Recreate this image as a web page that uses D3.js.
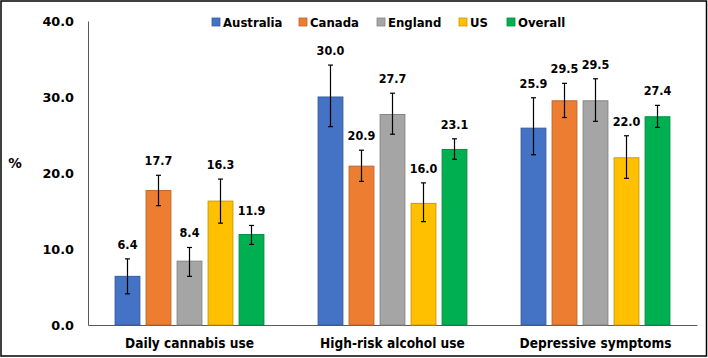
<!DOCTYPE html>
<html><head><meta charset="utf-8">
<script src="https://cdn.jsdelivr.net/npm/d3@7"></script>
<style>
html,body{margin:0;padding:0;background:#fff;}
svg{display:block;}
.cond{font-family:"DejaVu Sans Condensed","DejaVu Sans",sans-serif;font-stretch:condensed;font-weight:bold;}
.wide{font-family:"DejaVu Sans",sans-serif;font-weight:bold;}
</style></head>
<body>
<svg id="c" width="708" height="358"></svg>
<script>
const categories = ["Daily cannabis use", "High-risk alcohol use", "Depressive symptoms"];
const seriesNames = ["Australia", "Canada", "England", "US", "Overall"];
const colors = ["#4472C4", "#ED7D31", "#A5A5A5", "#FFC000", "#00B050"];
// values per series, in category order
const australia = [6.4, 30.0, 25.9];
const canada = [17.7, 20.9, 29.5];
const england = [8.4, 27.7, 29.5];
const us = [16.3, 16.0, 22.0];
const overall = [11.9, 23.1, 27.4];
// 95% CI lower / upper
const australiaLo = [4.1, 26.1, 22.4], australiaHi = [8.7, 34.2, 29.9];
const canadaLo = [15.7, 18.9, 27.3], canadaHi = [19.7, 23.0, 31.8];
const englandLo = [6.4, 25.1, 26.8], englandHi = [10.2, 30.5, 32.4];
const usLo = [13.4, 13.6, 19.3], usHi = [19.2, 18.7, 24.9];
const overallLo = [10.6, 21.8, 26.0], overallHi = [13.1, 24.5, 28.9];
const yTicks = [0, 10, 20, 30, 40];
const yLabel = "%";

const values = [australia, canada, england, us, overall];
const los = [australiaLo, canadaLo, englandLo, usLo, overallLo];
const his = [australiaHi, canadaHi, englandHi, usHi, overallHi];

const svg = d3.select("#c");
const W = 708, H = 358;
const mLeft = 88, mRight = 697, mTop = 21, mBottom = 325;

svg.append("rect").attr("x", 1).attr("y", 1).attr("width", W - 2.5).attr("height", H - 3)
  .attr("fill", "#fff").attr("stroke", "#000").attr("stroke-width", 1.5);

const y = d3.scaleLinear().domain([0, 40]).range([mBottom, mTop]);
const x0 = d3.scaleBand().domain(categories).range([mLeft, mRight]);
const x1 = d3.scaleBand().domain(seriesNames).range([0, x0.bandwidth()])
  .paddingInner(0.2).paddingOuter(0.874);

// y tick labels
const yAxis = d3.axisLeft(y).tickValues(yTicks).tickFormat(d3.format(".1f")).tickSize(0).tickPadding(14);
const ga = svg.append("g").attr("transform", `translate(${mLeft},0)`).call(yAxis);
ga.attr("font-family", null).attr("font-size", null);
ga.select(".domain").attr("stroke", "#595959").attr("stroke-width", 1);
ga.selectAll("text").attr("class", "wide").attr("font-size", 12.8).attr("fill", "#000")
  .attr("x", 74 - mLeft);

// x axis line
const xAxis = d3.axisBottom(x0).tickSize(0).tickPadding(14);
const gx = svg.append("g").attr("transform", `translate(0,${mBottom})`).call(xAxis);
gx.attr("font-family", null).attr("font-size", null);
gx.select(".domain").attr("stroke", "#595959").attr("stroke-width", 1);
gx.selectAll("text").attr("class", "cond").attr("font-size", 13.6).attr("fill", "#000")
  .attr("dy", null).attr("y", 348 - mBottom);

svg.append("text").attr("class", "wide").attr("font-size", 13.5)
  .attr("x", 15).attr("y", 168).attr("text-anchor", "middle").text(yLabel);

// bars
seriesNames.forEach((s, si) => {
  const g = svg.append("g");
  const data = categories.map((c, ci) => ({c, v: values[si][ci], lo: los[si][ci], hi: his[si][ci]}));
  g.selectAll("rect").data(data).join("rect")
    .attr("x", d => x0(d.c) + x1(s))
    .attr("y", d => y(d.v))
    .attr("width", x1.bandwidth())
    .attr("height", d => y(0) - y(d.v))
    .attr("fill", colors[si])
    .attr("stroke", d3.color(colors[si]).darker(0.6))
    .attr("stroke-width", 1);
  const cx = d => x0(d.c) + x1(s) + x1.bandwidth() / 2;
  g.selectAll("line.err").data(data).join("line").attr("class", "err")
    .attr("x1", cx).attr("x2", cx).attr("y1", d => y(d.lo)).attr("y2", d => y(d.hi))
    .attr("stroke", "#000").attr("stroke-width", 1.2);
  g.selectAll("line.capH").data(data).join("line").attr("class", "capH")
    .attr("x1", d => cx(d) - 2.5).attr("x2", d => cx(d) + 2.5).attr("y1", d => y(d.hi)).attr("y2", d => y(d.hi))
    .attr("stroke", "#000").attr("stroke-width", 1.2);
  g.selectAll("line.capL").data(data).join("line").attr("class", "capL")
    .attr("x1", d => cx(d) - 2.5).attr("x2", d => cx(d) + 2.5).attr("y1", d => y(d.lo)).attr("y2", d => y(d.lo))
    .attr("stroke", "#000").attr("stroke-width", 1.2);
  g.selectAll("text").data(data).join("text").attr("class", "cond")
    .attr("font-size", 12.5).attr("fill", "#000").attr("text-anchor", "middle")
    .attr("x", cx).attr("y", d => y(d.hi) - 10)
    .text(d => d3.format(".1f")(d.v));
});

// legend
const legendX = [212, 299, 377, 459, 507];
const lg = svg.append("g");
seriesNames.forEach((s, i) => {
  lg.append("rect").attr("x", legendX[i]).attr("y", 18).attr("width", 8).attr("height", 8)
    .attr("fill", colors[i]).attr("stroke", d3.color(colors[i]).darker(0.6)).attr("stroke-width", 0.8);
  lg.append("text").attr("class", "cond").attr("font-size", 13).attr("fill", "#000")
    .attr("x", legendX[i] + 11).attr("y", 27).text(s);
});
</script>
</body></html>
